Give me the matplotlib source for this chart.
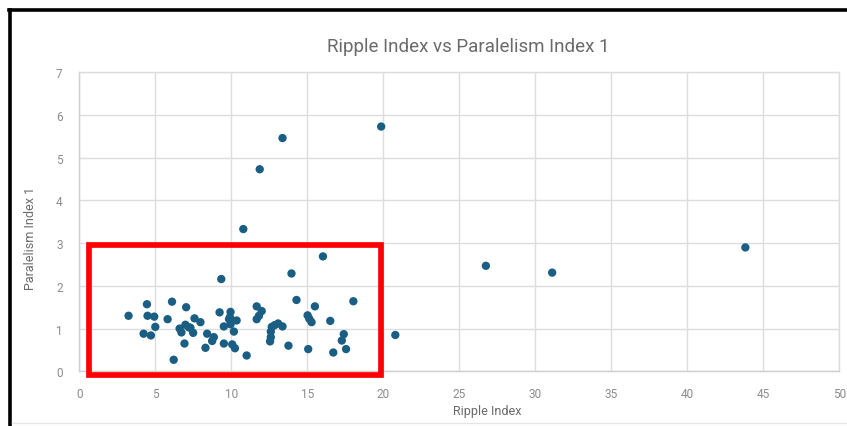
import matplotlib
matplotlib.use("Agg")
import matplotlib.pyplot as plt
from matplotlib.patches import Rectangle
from matplotlib.lines import Line2D

# Measured samples
ripple_index = [
    3.24, 4.45, 4.49, 4.93, 5.00, 4.23, 4.71, 5.81, 6.10, 6.21,
    6.60, 6.72, 6.92, 7.03, 6.98, 7.20, 7.31, 7.49, 7.58, 7.97,
    8.41, 8.30, 8.85, 8.74, 9.23, 9.34, 9.51, 9.51, 9.95, 9.91,
    9.85, 10.35, 9.95, 10.17, 10.06, 10.24, 11.01, 11.67, 12.00, 11.82,
    11.67, 12.66, 12.85, 12.60, 12.60, 12.55, 13.08, 13.37, 13.76, 13.96,
    14.29, 15.02, 15.13, 15.28, 15.50, 15.06, 16.03, 16.51, 16.71, 17.40,
    17.27, 17.55, 18.03, 20.79, 10.79, 11.87, 13.37, 19.86, 26.75, 31.11,
    43.82,
]
paralelism_index_1 = [
    1.30, 1.57, 1.30, 1.28, 1.04, 0.88, 0.84, 1.22, 1.63, 0.27,
    1.00, 0.91, 0.65, 1.50, 1.09, 1.03, 1.02, 0.90, 1.24, 1.15,
    0.88, 0.55, 0.80, 0.71, 1.38, 2.16, 1.05, 0.65, 1.39, 1.27,
    1.22, 1.19, 1.10, 0.93, 0.63, 0.54, 0.37, 1.52, 1.41, 1.30,
    1.22, 1.04, 1.08, 0.93, 0.80, 0.70, 1.12, 1.05, 0.60, 2.29,
    1.67, 1.31, 1.23, 1.15, 1.52, 0.52, 2.69, 1.18, 0.44, 0.87,
    0.72, 0.52, 1.64, 0.85, 3.33, 4.73, 5.46, 5.73, 2.47, 2.31,
    2.90,
]
x_ticks = [0, 5, 10, 15, 20, 25, 30, 35, 40, 45, 50]
y_ticks = [0, 1, 2, 3, 4, 5, 6, 7]

W, H = 847, 427
plt.rcParams["font.family"] = ["Roboto", "DejaVu Sans"]
title_grey = "#6A6A6A"
tick_grey = "#8C8C8C"
grid_grey = "#DDDDDD"

fig = plt.figure(figsize=(W / 100, H / 100), dpi=100)
fig.patch.set_facecolor("white")

ax = fig.add_axes([79.3 / W, 1 - 372.3 / H, (839.3 - 79.3) / W, (372.3 - 73.3) / H])
ax.scatter(ripple_index, paralelism_index_1, s=36, color="#1A5E84",
           edgecolors="none", zorder=3)

ax.set_xlim(0, 50)
ax.set_ylim(0, 7)
ax.set_xticks(x_ticks)
ax.set_yticks(y_ticks)
ax.grid(True, color=grid_grey, linewidth=1.0, zorder=0)
for side in ("top", "right"):
    ax.spines[side].set_color(grid_grey)
for side in ("left", "bottom"):
    ax.spines[side].set_color("#CFCFCF")
for sp in ax.spines.values():
    sp.set_linewidth(1.0)
ax.tick_params(axis="both", length=0, labelsize=8.5, labelcolor=tick_grey)
ax.tick_params(axis="x", pad=11)
ax.tick_params(axis="y", pad=12)

fig.text(468 / W, 1 - 47 / H, "Ripple Index vs Paralelism Index 1",
         ha="center", va="center", fontsize=13.5, color=title_grey)
fig.text(487 / W, 1 - 412 / H, "Ripple Index",
         ha="center", va="center", fontsize=9, color=title_grey)
fig.text(31 / W, 1 - 238 / H, "Paralelism Index 1", rotation=90,
         ha="center", va="center", fontsize=9, color=title_grey)

# Frame around the chart area
fig.add_artist(Line2D([10 / W, 10 / W], [0, 1 - 11 / H], transform=fig.transFigure,
                      color="black", linewidth=2.6))
fig.add_artist(Line2D([9 / W, 1], [1 - 11 / H, 1 - 11 / H], transform=fig.transFigure,
                      color="black", linewidth=2.6))
fig.add_artist(Line2D([12 / W, 1], [1 - 424 / H, 1 - 424 / H], transform=fig.transFigure,
                      color="#E6E6E6", linewidth=1.0))

# Highlight box over the lower-left cluster
x0, x1, y_top, y_bot = 88.8, 381.0, 246.0, 375.5
fig.add_artist(Rectangle((x0 / W, 1 - y_bot / H), (x1 - x0) / W, (y_bot - y_top) / H,
                         transform=fig.transFigure, fill=False,
                         edgecolor="#FF0000", linewidth=4.1, zorder=10))

fig.savefig("out.png", dpi=100)
